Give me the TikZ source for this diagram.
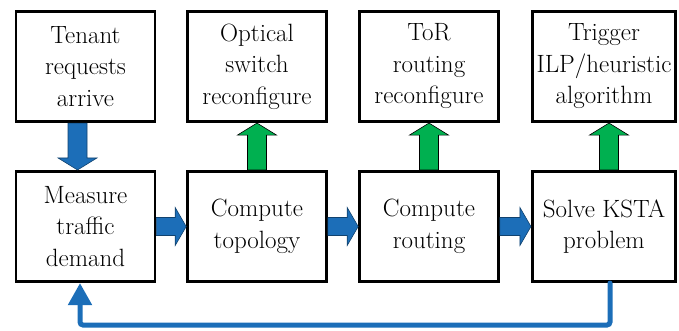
\documentclass[tikz,border=0pt]{standalone}
\usetikzlibrary{arrows.meta}
\usetikzlibrary{calc}

\definecolor{flowblue}{RGB}{28,110,184}
\definecolor{cfggreen}{RGB}{0,176,80}

\tikzset{
	stepbox/.style={draw, line width=2.6pt, minimum width=139pt, minimum height=110.5pt,
		inner sep=0pt, align=center, font=\fontsize{25}{31.5}\selectfont},
	bluefat/.style={fill=flowblue, draw=flowblue!60!black, line width=0.6pt},
	greenfat/.style={fill=cfggreen, draw=black, line width=0.6pt},
	fatdown/.style={to path={(\tikztostart) ++(-9.5,0) -- ($(\tikztotarget)+(-9.5,-12)$) -- ++(-10,0)
		-- (\tikztotarget) -- ++(19.5,-12) -- ++(-10,0) -- ($(\tikztostart)+(9.5,0)$) -- cycle}},
	fatup/.style={to path={(\tikztostart) ++(-9.5,0) -- ($(\tikztotarget)+(-9.5,12)$) -- ++(-10,0)
		-- (\tikztotarget) -- ++(19.5,12) -- ++(-10,0) -- ($(\tikztostart)+(9.5,0)$) -- cycle}},
	fatright/.style={to path={(\tikztostart) ++(0,-9) -- ($(\tikztotarget)+(-11,-9)$) -- ++(0,-10)
		-- (\tikztotarget) -- ++(-11,19) -- ++(0,-10) -- ($(\tikztostart)+(0,9)$) -- cycle}},
	feedback/.style={draw=flowblue, line width=5pt, line cap=round, rounded corners=3pt,
		-{Triangle[width=23pt,length=22pt]}}
}

\begin{document}
\begin{tikzpicture}[x=1pt,y=-1pt]
	\useasboundingbox (0,0) rectangle (679,330);

	% top row
	\node[stepbox] (tenant) at (85.5,66.5) {Tenant\\requests\\arrive};
	\node[stepbox] (optical) at (257,66.5) {Optical\\switch\\reconfigure};
	\node[stepbox] (tor) at (429,66.5) {ToR\\routing\\reconfigure};
	\node[stepbox,minimum width=143.5pt] (trigger) at (604,66.5) {Trigger\\ILP/heuristic\\algorithm};

	% bottom row
	\node[stepbox] (measure) at (85.5,226.5) {Measure\\traffic\\demand};
	\node[stepbox] (topology) at (257,226.5) {Compute\\topology};
	\node[stepbox] (routing) at (429,226.5) {Compute\\routing};
	\node[stepbox,minimum width=143.5pt] (solve) at (604,226.5) {Solve KSTA\\problem};

	% block arrows
	\draw[bluefat,fatdown] (tenant.south -| 77.5,0) to (measure.north -| 77.5,0);
	\draw[bluefat,fatright] (measure.east) to (topology.west);
	\draw[bluefat,fatright] (topology.east) to (routing.west);
	\draw[bluefat,fatright] (routing.east) to (solve.west);

	\draw[greenfat,fatup] (topology.north) to (optical.south);
	\draw[greenfat,fatup] (routing.north) to (tor.south);
	\draw[greenfat,fatup] (solve.north -| 609,0) to (trigger.south -| 609,0);

	% loop back
	\coordinate (loop) at (80,325);
	\draw[feedback] (solve.south -| 610,0) |- (loop) -- (loop |- measure.south);
\end{tikzpicture}
\end{document}
